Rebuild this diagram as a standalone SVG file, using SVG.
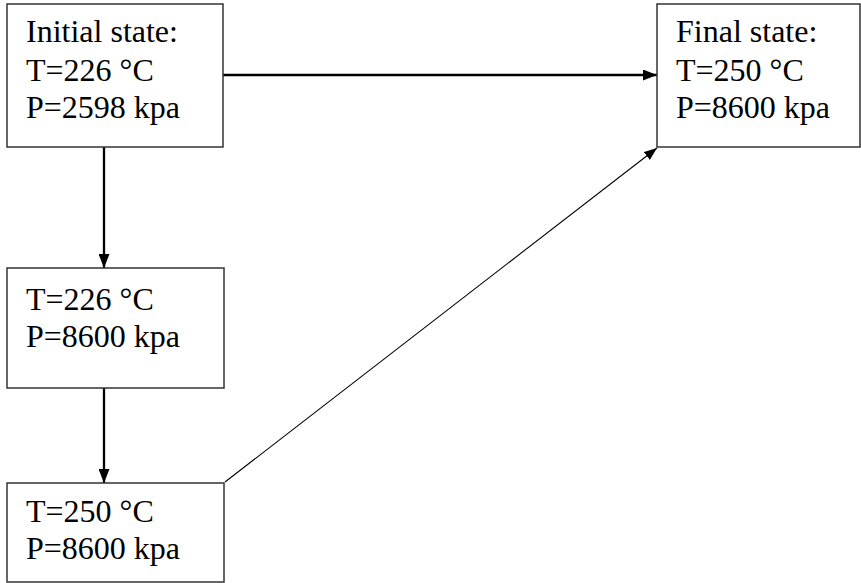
<svg xmlns="http://www.w3.org/2000/svg" width="861" height="583" viewBox="0 0 861 583">
<style>
.box{fill:#fff;stroke:#333;stroke-width:1.5}
.t{font-family:"Liberation Serif","Times New Roman",serif;font-size:32px;fill:#000}
.c{stroke:#000;stroke-width:2.3;fill:none}
</style>
<defs>
<marker id="ah" markerWidth="14" markerHeight="11" refX="14" refY="5.5" orient="auto" markerUnits="userSpaceOnUse">
<path d="M0,0 L14,5.5 L0,11 Z" fill="#000"/>
</marker>
<marker id="ahs" markerWidth="13" markerHeight="10" refX="13" refY="5" orient="auto" markerUnits="userSpaceOnUse">
<path d="M0,0 L13,5 L0,10 Z" fill="#000"/>
</marker>
</defs>
<rect width="861" height="583" fill="#fff"/>
<g id="connectors">
<line class="c" x1="223" y1="75" x2="657" y2="75" marker-end="url(#ah)"/>
<line class="c" x1="104" y1="147" x2="104" y2="268" marker-end="url(#ah)"/>
<line class="c" x1="104" y1="388" x2="104" y2="483" marker-end="url(#ah)"/>
<line class="c" style="stroke-width:1.1" x1="225" y1="482" x2="657" y2="148" marker-end="url(#ahs)"/>
</g>
<g id="initial">
<rect class="box" x="7" y="4" width="216" height="143"/>
<text class="t" x="26" y="42">Initial state:</text>
<text class="t" x="26" y="81">T=226 °C</text>
<text class="t" x="26" y="118">P=2598 kpa</text>
</g>
<g id="final">
<rect class="box" x="657" y="4" width="203" height="143"/>
<text class="t" x="676" y="42">Final state:</text>
<text class="t" x="676" y="81">T=250 °C</text>
<text class="t" x="676" y="118">P=8600 kpa</text>
</g>
<g id="mid">
<rect class="box" x="7" y="268" width="217" height="120"/>
<text class="t" x="26" y="310">T=226 °C</text>
<text class="t" x="26" y="347">P=8600 kpa</text>
</g>
<g id="heated">
<rect class="box" x="7" y="483" width="217" height="99"/>
<text class="t" x="26" y="522">T=250 °C</text>
<text class="t" x="26" y="559">P=8600 kpa</text>
</g>
</svg>
